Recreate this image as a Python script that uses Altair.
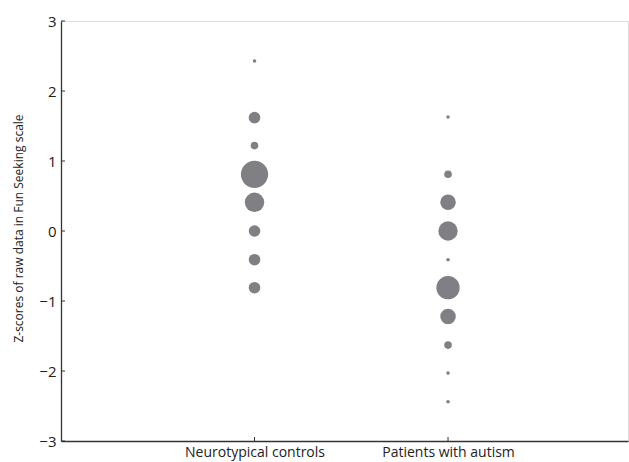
import altair as alt
import pandas as pd

# Data
group_labels = ["Neurotypical controls", "Patients with autism"]
group_pos = [1, 2]

controls_z = [2.43, 1.62, 1.22, 0.81, 0.41, 0.0, -0.41, -0.81]
controls_n = [1, 3, 2, 7, 5, 3, 3, 3]

patients_z = [1.63, 0.81, 0.41, 0.0, -0.41, -0.81, -1.22, -1.63, -2.03, -2.44]
patients_n = [1, 2, 4, 5, 1, 6, 4, 2, 1, 1]

y_ticks = [-3, -2, -1, 0, 1, 2, 3]
x_ticks = [1, 2]

rows = []
for z, n in zip(controls_z, controls_n):
    rows.append({"group": group_pos[0], "z": z, "n": n})
for z, n in zip(patients_z, patients_n):
    rows.append({"group": group_pos[1], "z": z, "n": n})
df = pd.DataFrame(rows)

W, H = 567, 420
FONT = "Open Sans"
GRAY = "#808084"

xscale = alt.Scale(domain=[0, 2.93], nice=False, zero=False)
yscale = alt.Scale(domain=[-3, 3], nice=False, zero=False)

label_expr = "datum.value == 1 ? '%s' : datum.value == 2 ? '%s' : ''" % (group_labels[0], group_labels[1])

points = alt.Chart(df).mark_circle(color=GRAY, opacity=1).encode(
    x=alt.X("group:Q", scale=xscale,
            axis=alt.Axis(values=x_ticks, labelExpr=label_expr, title=None, grid=False,
                          ticks=False, tickSize=0, labelPadding=4, labelFontSize=14,
                          labelFont=FONT, labelColor="#222", domainColor="#333",
                          domainWidth=1.3, labelBaseline="top")),
    y=alt.Y("z:Q", scale=yscale,
            axis=alt.Axis(values=y_ticks, format="d", grid=False, ticks=False, tickSize=0,
                          labelPadding=5, labelFontSize=15, labelFont=FONT,
                          labelColor="#222", domainColor="#333", domainWidth=1.3,
                          title="Z-scores of raw data in Fun Seeking scale",
                          titleFont=FONT, titleFontSize=12, titleFontWeight="normal",
                          titleColor="#222", titleAngle=-90, titleX=-43, titleY=207,
                          titleAlign="center", titleBaseline="middle")),
    size=alt.Size("n:Q", scale=alt.Scale(type="pow", exponent=2, domain=[1, 7],
                                         range=[12.6, 740]), legend=None),
)

ytick_df = pd.DataFrame({"t": y_ticks})
ytick_rules = alt.Chart(ytick_df).mark_rule(color="#333", strokeWidth=1).encode(
    y=alt.Y("t:Q", scale=yscale),
    x=alt.value(0),
    x2=alt.value(4),
)

xtick_df = pd.DataFrame({"t": x_ticks})
xtick_rules = alt.Chart(xtick_df).mark_rule(color="#333", strokeWidth=1).encode(
    x=alt.X("t:Q", scale=xscale),
    y=alt.value(H - 4),
    y2=alt.value(H),
)

chart = alt.layer(points, ytick_rules, xtick_rules).properties(
    width=W, height=H,
    autosize=alt.AutoSizeParams(type="none"),
    padding={"left": 61, "top": 21, "right": 1, "bottom": 21},
).configure_view(stroke=None).configure(background="white")

chart.save("out.html", embed_options={"renderer": "svg", "actions": False})
